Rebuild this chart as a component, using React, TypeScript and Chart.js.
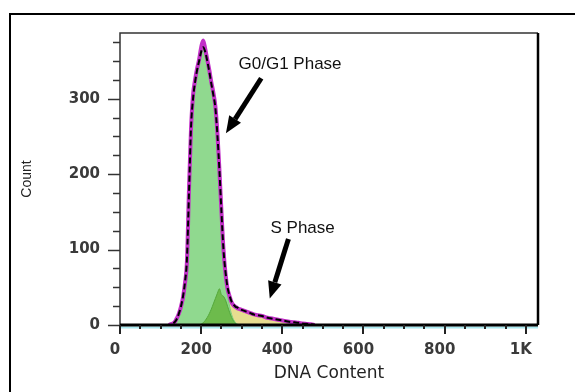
import React, { useEffect, useRef } from 'react';
import { Chart, registerables } from 'chart.js';

Chart.register(...registerables);

// DNA content channels (x)
const channels = [
  0, 120, 125, 130, 135, 140, 145, 150, 155, 160, 165, 170, 175, 180, 185, 190, 195,
  200, 205, 210, 215, 220, 225, 230, 235, 240, 245, 250, 255, 260, 265, 270, 275,
  280, 285, 290, 295, 300, 310, 320, 330, 340, 350, 360, 370, 380, 390, 400, 410,
  420, 430, 440, 450, 460, 470, 480, 500, 1030,
];

// Total model fit (magenta)
const totalFit = [
  null, 0, 1, 2, 4, 9, 15, 24, 36, 55, 85, 180, 260, 305, 325, 340, 352,
  368, 377, 366, 352, 338, 322, 308, 290, 255, 205, 150, 100, 68, 48, 38, 30,
  26, 24, 22, 21, 20, 18, 16, 14, 13, 12, 10, 9, 8, 7, 6, 5,
  4, 3.5, 3, 2, 1.5, 1, 0, null, null,
];

// Measured histogram (black dashed)
const dnaCounts = [
  0, 0, 0, 2, 4, 8, 15, 24, 37, 56, 88, 175, 262, 300, 322, 338, 350,
  362, 368, 362, 350, 336, 320, 305, 288, 252, 205, 150, 100, 70, 50, 39, 31,
  27, 24, 23, 21, 20, 18, 16, 14, 13, 12, 10, 9, 8, 7, 6, 5,
  4, 3.5, 3, 2, 1.5, 1, 0, 0, 0,
];

// G0/G1 component (light green)
const g0g1 = [
  0, 0, 0, 1, 3, 8, 15, 24, 36, 55, 85, 180, 260, 305, 325, 340, 352,
  367, 374, 362, 348, 334, 318, 304, 286, 251, 201, 146, 97, 64, 40, 25, 14,
  7, 3, 1, 0, 0, 0, 0, 0, 0, 0, 0, 0, 0, 0, 0, 0,
  0, 0, 0, 0, 0, 0, 0, 0, 0,
];

// G2 component (dark green)
const g2 = [
  0, 0, 0, 0, 0, 0, 0, 0, 0, 0, 0, 0, 0, 0, 0, 0, 0,
  1, 3, 6, 10, 15, 21, 28, 35, 42, 48, 40, 38, 33, 25, 17, 10,
  5, 2, 0, 0, 0, 0, 0, 0, 0, 0, 0, 0, 0, 0, 0, 0,
  0, 0, 0, 0, 0, 0, 0, 0, 0,
];

// S phase component (yellow)
const sPhase = [
  0, 0, 0, 0, 0, 0, 0, 0, 0, 0, 0, 0, 0, 0, 0, 0, 0,
  0, 0, 0, 0, 0, 0, 0, 0, 4, 8, 15, 25, 40, 46, 37, 29,
  25, 23, 21, 20, 19, 17, 15, 13, 12, 11, 9.5, 8.5, 7.5, 6.5, 5.5, 4.5,
  3.5, 3, 2.5, 1.5, 1, 0.5, 0, 0, 0,
];

const xLabelValues = [0, 200, 400, 600, 800, 1000];
const xLabelTexts = ['0', '200', '400', '600', '800', '1K'];
const yLabelValues = [0, 100, 200, 300];

// Annotations (data coordinates)
const noteTexts = ['G0/G1 Phase', 'S Phase'];
const noteX = [419, 450];
const noteY = [345, 128];
const arrowFromX = [348, 415];
const arrowFromY = [327, 114];
const arrowToX = [261, 369];
const arrowToY = [254, 35];

const pts = (vals: (number | null)[]) => channels.map((c, i) => ({ x: c, y: vals[i] }));

const decorPlugin = {
  id: 'decor',
  afterDraw(chart: any) {
    const { ctx, chartArea: a } = chart;
    const xs = chart.scales.x;
    const ys = chart.scales.y;
    ctx.save();
    // cyan line under axis
    ctx.strokeStyle = '#a8e8ef';
    ctx.lineWidth = 2;
    ctx.beginPath();
    ctx.moveTo(a.left, a.bottom + 2.5);
    ctx.lineTo(a.right, a.bottom + 2.5);
    ctx.stroke();
    // frame
    ctx.strokeStyle = '#333';
    ctx.lineWidth = 1.5;
    ctx.beginPath();
    ctx.moveTo(a.left, a.bottom);
    ctx.lineTo(a.left, a.top);
    ctx.lineTo(a.right, a.top);
    ctx.stroke();
    ctx.strokeStyle = '#000';
    ctx.lineWidth = 2.5;
    ctx.beginPath();
    ctx.moveTo(a.right, a.top);
    ctx.lineTo(a.right, a.bottom);
    ctx.stroke();
    ctx.lineWidth = 3;
    ctx.beginPath();
    ctx.moveTo(a.left, a.bottom);
    ctx.lineTo(a.right, a.bottom);
    ctx.stroke();
    // y ticks
    ctx.strokeStyle = '#333';
    ctx.lineWidth = 1.5;
    for (const t of ys.ticks) {
      const py = Math.round(ys.getPixelForValue(t.value)) + 0.5;
      const len = t.value % 100 === 0 ? 12 : 7;
      ctx.beginPath();
      ctx.moveTo(a.left - len, py);
      ctx.lineTo(a.left, py);
      ctx.stroke();
    }
    // x ticks
    ctx.strokeStyle = '#222';
    ctx.lineWidth = 2;
    for (const t of xs.ticks) {
      const px = Math.round(xs.getPixelForValue(t.value));
      const len = t.value % 200 === 0 ? 9 : 4;
      ctx.beginPath();
      ctx.moveTo(px, a.bottom);
      ctx.lineTo(px, a.bottom + len);
      ctx.stroke();
    }
    // arrows
    ctx.fillStyle = '#000';
    ctx.strokeStyle = '#000';
    for (let i = 0; i < arrowFromX.length; i++) {
      const x1 = xs.getPixelForValue(arrowFromX[i]);
      const y1 = ys.getPixelForValue(arrowFromY[i]);
      const x2 = xs.getPixelForValue(arrowToX[i]);
      const y2 = ys.getPixelForValue(arrowToY[i]);
      const ang = Math.atan2(y2 - y1, x2 - x1);
      const headLen = 17;
      const headW = 7;
      const bx = x2 - headLen * Math.cos(ang);
      const by = y2 - headLen * Math.sin(ang);
      ctx.lineWidth = 5;
      ctx.beginPath();
      ctx.moveTo(x1, y1);
      ctx.lineTo(bx, by);
      ctx.stroke();
      ctx.beginPath();
      ctx.moveTo(x2, y2);
      ctx.lineTo(bx + headW * Math.sin(ang), by - headW * Math.cos(ang));
      ctx.lineTo(bx - headW * Math.sin(ang), by + headW * Math.cos(ang));
      ctx.closePath();
      ctx.fill();
    }
    // annotation texts
    ctx.fillStyle = '#111';
    ctx.font = '17px "Liberation Sans", Arial, sans-serif';
    ctx.textAlign = 'center';
    ctx.textBaseline = 'middle';
    for (let i = 0; i < noteTexts.length; i++) {
      ctx.fillText(noteTexts[i], xs.getPixelForValue(noteX[i]), ys.getPixelForValue(noteY[i]));
    }
    ctx.restore();
  },
};

export default function App() {
  const ref = useRef<HTMLCanvasElement | null>(null);
  useEffect(() => {
    if (!ref.current) return;
    const chart = new Chart(ref.current, {
      type: 'line',
      data: {
        datasets: [
          {
            label: 'DNA',
            data: pts(dnaCounts),
            borderColor: '#000',
            borderWidth: 2,
            borderDash: [6, 3],
            pointRadius: 0,
            fill: false,
            order: 1,
            cubicInterpolationMode: 'monotone',
          },
          {
            label: 'Fit',
            data: pts(totalFit),
            borderColor: '#c22fc8',
            borderWidth: 4,
            pointRadius: 0,
            fill: false,
            order: 2,
            cubicInterpolationMode: 'monotone',
          },
          {
            label: 'G2',
            data: pts(g2),
            borderColor: '#55a83a',
            backgroundColor: '#6dbb4c',
            borderWidth: 1,
            pointRadius: 0,
            fill: 'origin',
            order: 3,
            cubicInterpolationMode: 'monotone',
          },
          {
            label: 'G0/G1',
            data: pts(g0g1),
            borderColor: '#7ccf7c',
            backgroundColor: '#90d98f',
            borderWidth: 1,
            pointRadius: 0,
            fill: 'origin',
            order: 4,
            cubicInterpolationMode: 'monotone',
          },
          {
            label: 'S',
            data: pts(sPhase),
            borderColor: '#e0552e',
            backgroundColor: '#e6dd90',
            borderWidth: 1.5,
            borderDash: [2, 2],
            pointRadius: 0,
            fill: 'origin',
            order: 5,
            cubicInterpolationMode: 'monotone',
          },
        ],
      },
      options: {
        animation: false,
        responsive: false,
        maintainAspectRatio: false,
        layout: { padding: { left: 0, right: 37, top: 33, bottom: 0 } },
        plugins: { legend: { display: false }, tooltip: { enabled: false } },
        scales: {
          x: {
            type: 'linear',
            min: 0,
            max: 1030,
            afterFit: (s: any) => {
              s.height = 67;
            },
            border: { display: false },
            grid: {
              display: true,
              drawOnChartArea: false,
              drawTicks: true,
              tickLength: 9,
              color: 'rgba(0,0,0,0)',
            },
            ticks: {
              stepSize: 50,
              includeBounds: false,
              autoSkip: false,
              maxRotation: 0,
              padding: 7,
              labelOffset: -5,
              color: '#3a3a3a',
              font: { family: '"DejaVu Sans", sans-serif', size: 15, weight: 'bold' },
              callback: (v: any) => {
                const i = xLabelValues.indexOf(Number(v));
                return i >= 0 ? xLabelTexts[i] : '';
              },
            },
            title: {
              display: true,
              text: 'DNA Content',
              color: '#222',
              font: { family: '"DejaVu Sans", sans-serif', size: 17 },
              padding: { top: 0, bottom: 8 },
            },
          },
          y: {
            type: 'linear',
            min: 0,
            max: 387,
            afterFit: (s: any) => {
              s.width = 120;
            },
            border: { display: false },
            grid: {
              display: true,
              drawOnChartArea: false,
              drawTicks: true,
              tickLength: 12,
              color: 'rgba(0,0,0,0)',
            },
            ticks: {
              stepSize: 25,
              includeBounds: false,
              autoSkip: false,
              padding: 8,
              color: '#3a3a3a',
              font: { family: '"DejaVu Sans", sans-serif', size: 15, weight: 'bold' },
              callback: (v: any) => (yLabelValues.includes(Number(v)) ? String(v) : ''),
            },
            title: {
              display: true,
              text: 'Count',
              color: '#222',
              font: { family: '"Liberation Sans", Arial, sans-serif', size: 14 },
              padding: { top: 19, bottom: 0 },
            },
          },
        },
      },
      plugins: [decorPlugin],
    } as any);
    return () => chart.destroy();
  }, []);

  return (
    <div
      style={{
        position: 'fixed',
        left: 0,
        top: 0,
        width: 575,
        height: 392,
        overflow: 'hidden',
        background: '#fff',
      }}
    >
      <div
        style={{
          position: 'absolute',
          left: 9,
          top: 13,
          width: 700,
          height: 500,
          border: '2px solid #000',
          boxSizing: 'border-box',
        }}
      />
      <canvas
        ref={ref}
        width={575}
        height={392}
        style={{ position: 'absolute', left: 0, top: 0, width: 575, height: 392 }}
      />
    </div>
  );
}
